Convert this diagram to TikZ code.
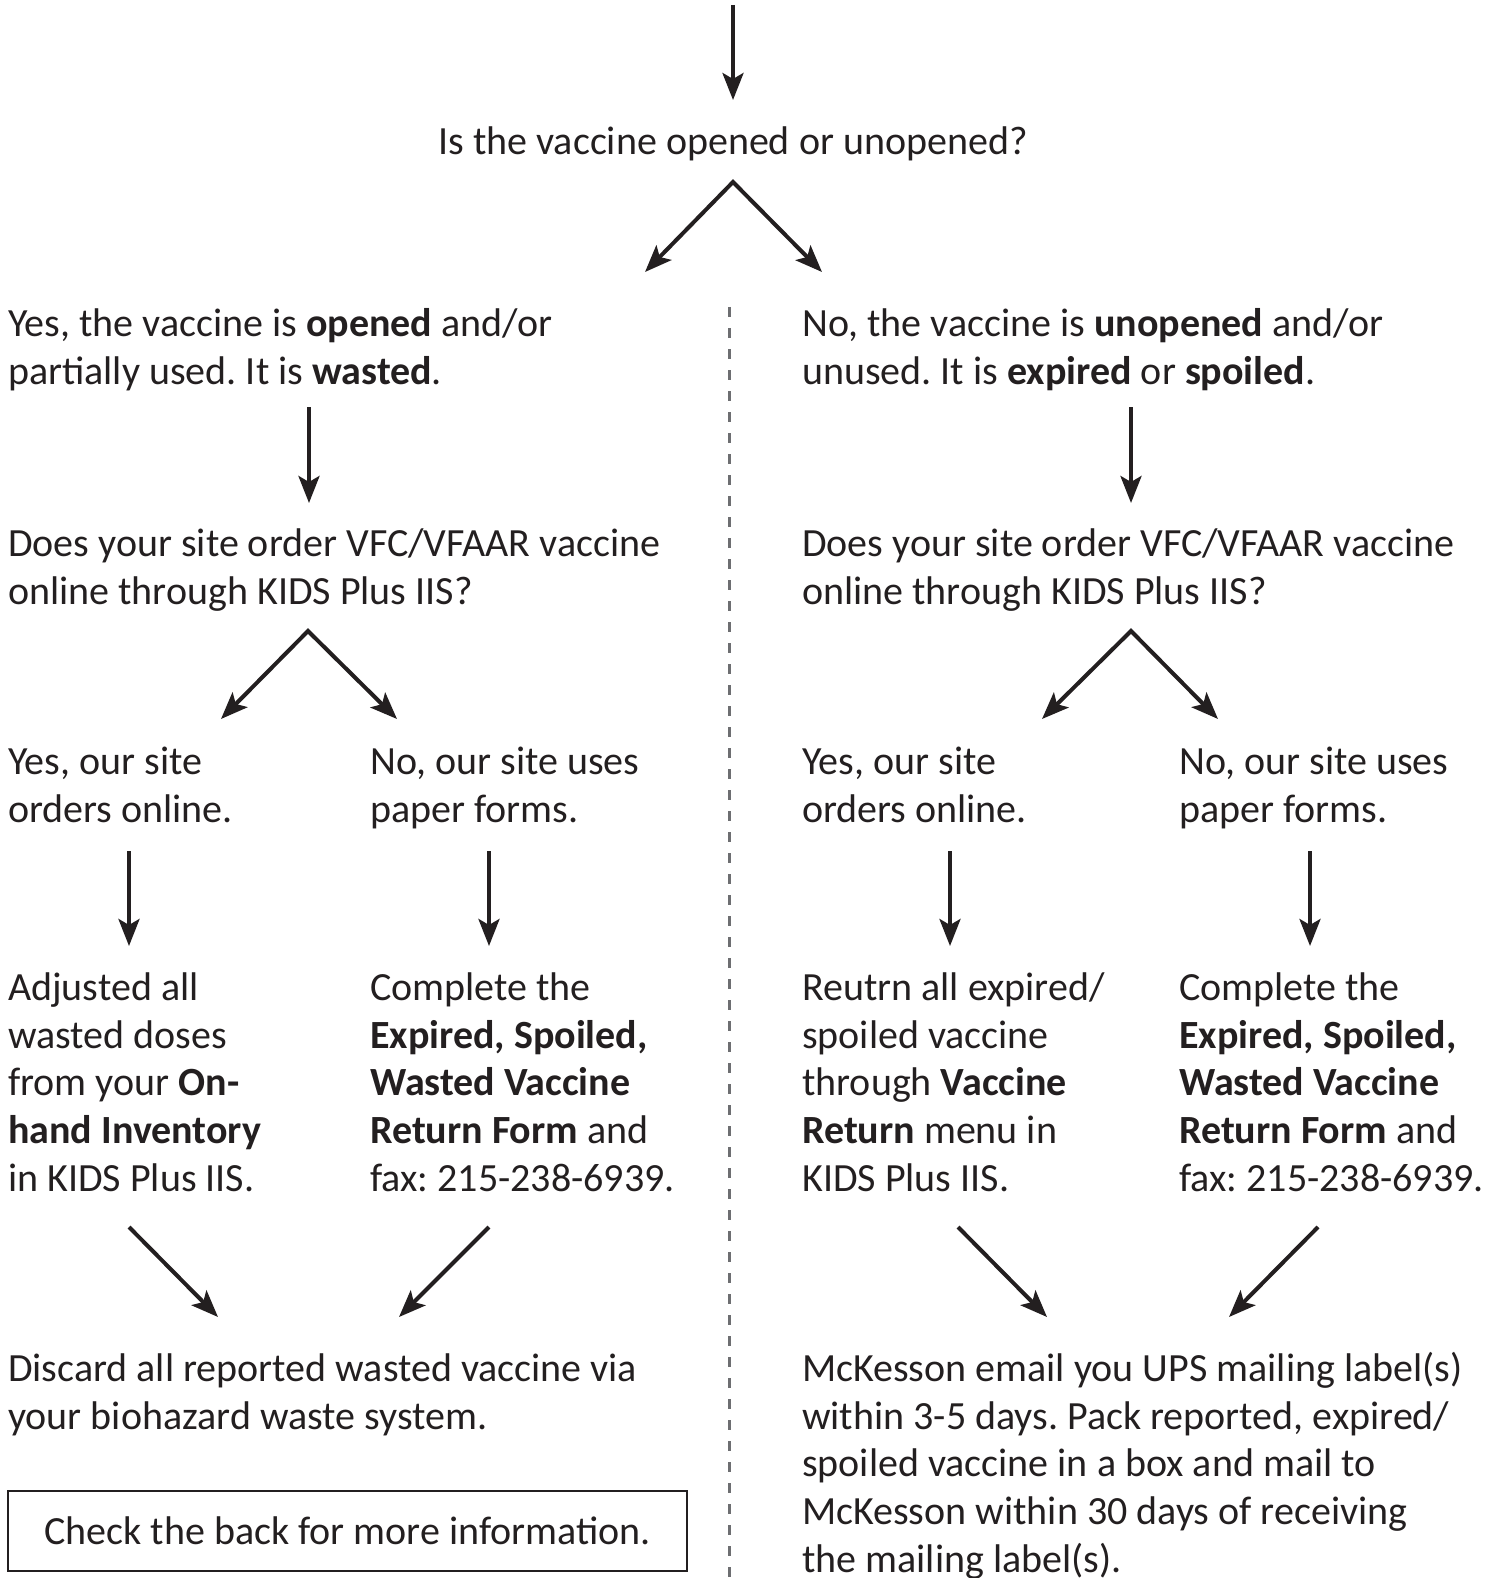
\documentclass[tikz,border=0pt]{standalone}
\usepackage{fontspec}
\setmainfont{Carlito}
\usetikzlibrary{arrows.meta}
\definecolor{ink}{HTML}{231F20}
\definecolor{dashgray}{HTML}{6D6E71}
\frenchspacing
\newcommand{\fsz}{\fontsize{40}{47.8}\selectfont}
\newcommand{\fl}{\rule{0pt}{34pt}}
\tikzset{
  txt/.style={anchor=north west, inner sep=0pt, align=left, font=\fsz, text=ink},
  arr/.style={draw=ink, line width=4pt, -{Stealth[length=27pt,width=21pt,inset=6pt]}},
  fork/.style={draw=ink, line width=4pt, miter limit=10,
    {Stealth[length=27pt,width=21pt,inset=6pt]}-{Stealth[length=27pt,width=21pt,inset=6pt]}},
  divider/.style={draw=dashgray, line width=3pt, dash pattern=on 10pt off 11pt}
}
\begin{document}
\begin{tikzpicture}[x=1pt,y=-1pt]
  \useasboundingbox (0,0) rectangle (1497,1578);

  % question
  \node (q) [anchor=base, inner sep=0pt, font=\fsz, text=ink] at (733,155)
        {Is the vaccine opened or unopened?};

  % left column
  \node (lopen) [txt] at (8,302) {\fl Yes, the vaccine is \textbf{opened} and/or\\
                                  partially used. It is \textbf{wasted}.};
  \node (lask)  [txt] at (8,522) {\fl Does your site order VFC/VFAAR vaccine\\
                                  online through KIDS Plus IIS?};
  \node (lyes)  [txt] at (8,740)   {\fl Yes, our site\\orders online.};
  \node (lno)   [txt] at (370,740) {\fl No, our site uses\\paper forms.};
  \node (ladj)  [txt] at (8,966)   {\fl Adjusted all\\wasted doses\\from your \textbf{On-}\\
                                    \textbf{hand Inventory}\\in KIDS Plus IIS.};
  \node (lform) [txt] at (370,966) {\fl Complete the\\\textbf{Expired, Spoiled,}\\
                                    \textbf{Wasted Vaccine}\\\textbf{Return Form} and\\
                                    fax: 215-238-6939.};
  \node (ldisc) [txt] at (8,1347)  {\fl Discard all reported wasted vaccine via\\
                                    your biohazard waste system.};
  \node (back) [draw=ink, line width=2.5pt, minimum width=679pt, minimum height=80pt,
                inner sep=0pt, font=\fsz, text=ink] at (347.5,1531)
        {Check the back for more information.};

  % right column
  \node (ropen) [txt] at (802,302) {\fl No, the vaccine is \textbf{unopened} and/or\\
                                    unused. It is \textbf{expired} or \textbf{spoiled}.};
  \node (rask)  [txt] at (802,522) {\fl Does your site order VFC/VFAAR vaccine\\
                                    online through KIDS Plus IIS?};
  \node (ryes)  [txt] at (802,740)  {\fl Yes, our site\\orders online.};
  \node (rno)   [txt] at (1179,740) {\fl No, our site uses\\paper forms.};
  \node (rret)  [txt] at (802,966)  {\fl Reutrn all expired/\\spoiled vaccine\\
                                     through \textbf{Vaccine}\\\textbf{Return} menu in\\
                                     KIDS Plus IIS.};
  \node (rform) [txt] at (1179,966) {\fl Complete the\\\textbf{Expired, Spoiled,}\\
                                     \textbf{Wasted Vaccine}\\\textbf{Return Form} and\\
                                     fax: 215-238-6939.};
  \node (rmck)  [txt] at (802,1347) {\fl McKesson email you UPS mailing label(s)\\
                                     within 3-5 days. Pack reported, expired/\\
                                     spoiled vaccine in a box and mail to\\
                                     McKesson within 30 days of receiving\\
                                     the mailing label(s).};

  % divider
  \coordinate (divtop) at (729,307);
  \coordinate (divbot) at (729,1590);
  \draw[divider] (divtop) -- (divbot);

  % straight arrows
  \foreach \n/\x/\ys/\ye in {top/733/5/100, la/309/407/503, ra/1131/407/503,
                             lb/129/851/946, lc/489/851/946,
                             rb/950/851/946, rc/1310/851/946}
  {
      \coordinate (\n s) at (\x,\ys);
      \coordinate (\n e) at (\x,\ye);
      \draw[arr] (\n s) -- (\n e);
  }

  % forks
  \foreach \n/\x/\y/\dl/\dr/\dy in {q/733/182/88/89/90, l/308/631/87/89/88, r/1131/631/89/87/88}
  {
      \coordinate (\n apex) at (\x,\y);
      \coordinate (\n left) at (\x-\dl,\y+\dy);
      \coordinate (\n right) at (\x+\dr,\y+\dy);
      \draw[fork] (\n left) -- (\n apex) -- (\n right);
  }

  % merging arrows
  \foreach \n/\xs/\xe in {lm/129/218, ln/489/399, rm/958/1047, rn/1318/1229}
  {
      \coordinate (\n s) at (\xs,1227);
      \coordinate (\n e) at (\xe,1317);
      \draw[arr] (\n s) -- (\n e);
  }
\end{tikzpicture}
\end{document}
